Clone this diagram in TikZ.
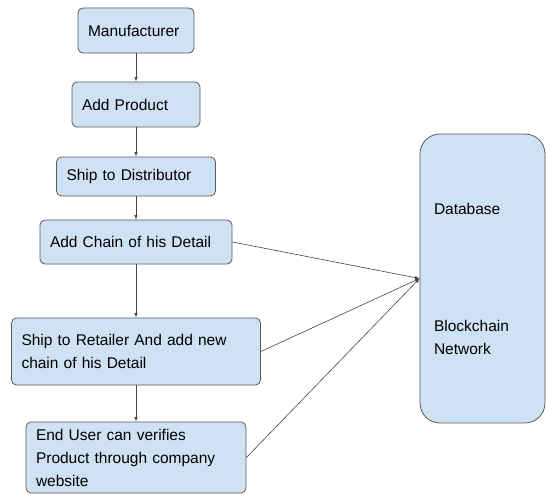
\documentclass[tikz,border=0pt]{standalone}
\usepackage{fontspec}
\setmainfont{Liberation Sans}
\usepackage{xcolor}
\usetikzlibrary{positioning}
\tikzset{>=latex}
\definecolor{boxfill}{HTML}{CFE2F3}
\definecolor{boxline}{HTML}{595959}

\begin{document}
\begin{tikzpicture}[
            x=1pt, y=-1pt,
            stage/.style={draw=boxline, fill=boxfill, line width=0.8pt, rounded corners=5pt,
                inner xsep=10pt, inner ysep=2pt, align=left, font=\fontsize{15.5}{23}\selectfont},
            store/.style={draw=boxline, fill=boxfill, line width=0.8pt, rounded corners=20pt,
                inner xsep=14pt, align=left, text width=97pt, minimum height=289pt,
                font=\fontsize{15.5}{23}\selectfont},
            link/.style={->, draw=boxline!80!black, line width=0.6pt}
        ]
        \useasboundingbox (0,0) rectangle (546,495);
        \node[stage, text width=96pt, minimum height=45pt] (maker) at (136, 30.5) {Manufacturer};
        \node[stage, text width=108pt, minimum height=45pt] (product) at (136, 104.5) {Add Product};
        \node[stage, text width=139pt, minimum height=39pt] (distrib) at (136, 176.5) {Ship to Distributor};
        \node[stage, text width=172pt, minimum height=44pt] (chain) at (136, 242) {Add Chain of his Detail};
        \node[stage, text width=229pt, minimum height=67pt] (retail) at (136, 351.5) {Ship to Retailer And add new\\chain of his Detail};
        \node[stage, text width=200pt, minimum height=71pt] (user) at (136, 457.5) {End User can verifies\\Product through company\\website};
        % database / blockchain
        \node[store] (db) at (482.5, 278.5) {Database\\[94pt]Blockchain\\Network};
        \draw[link] (maker) -- (product);
        \draw[link] (product) -- (distrib);
        \draw[link] (distrib) -- (chain);
        \draw[link] (chain) -- (retail);
        \draw[link] (retail) -- (user);
        \draw[link] (chain.east) -- (db.west);
        \draw[link] (retail.east) -- (db.west);
        \draw[link] (user.east) -- (db.west);
        \end{tikzpicture}
\end{document}
